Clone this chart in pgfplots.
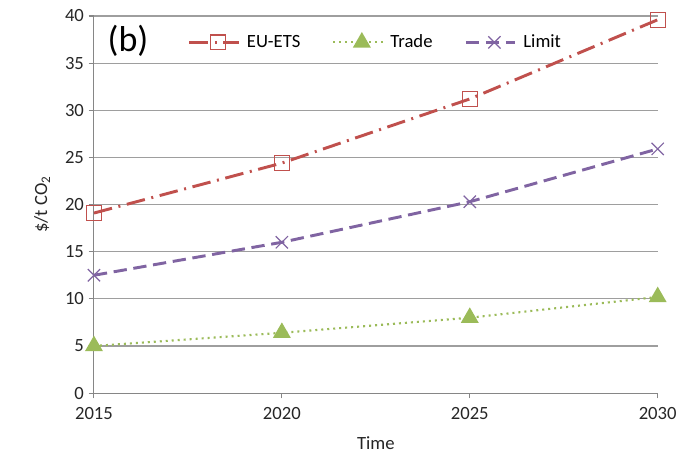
\documentclass[border=0pt]{standalone}
\usepackage{fontspec}
\setmainfont{Carlito}
\usepackage{pgfplots}
\pgfplotsset{compat=1.18}
\definecolor{eured}{HTML}{C0504D}
\definecolor{trgreen}{HTML}{9BBB59}
\definecolor{lmpurple}{HTML}{8064A2}
\definecolor{axgray}{HTML}{868686}
\definecolor{txt}{HTML}{262626}
\begin{document}
\begin{tikzpicture}
\begin{axis}[
  scale only axis,
  width=423pt, height=283pt,
  xmin=2015, xmax=2030, ymin=0, ymax=40,
  xtick={2015,2020,2025,2030},
  ytick={0,5,...,40},
  xticklabel style={/pgf/number format/1000 sep={}, yshift=-3pt},
  /pgf/number format/assume math mode=true,
  tick label style={font=\fontsize{14}{16}\selectfont, text=txt},
  label style={font=\fontsize{14}{16}\selectfont, text=txt},
  axis x line*=bottom, axis y line*=left,
  axis line style={axgray, line width=0.8pt, -},
  ymajorgrids, grid style={axgray!80, line width=0.8pt},
  tick style={axgray, line width=0.8pt},
  tick align=outside, major tick length=4pt,
  xlabel={Time}, ylabel={\$/t CO\textsubscript{2}},
  xlabel style={at={(axis description cs:0.5,-0.1325)}, anchor=center},
  ylabel style={at={(axis description cs:-0.092,0.5)}, anchor=center},
  legend style={draw=none, fill=none, at={(0.5,0.93)}, anchor=center,
    legend columns=3, font=\fontsize{14}{16}\selectfont,
    /tikz/every odd column/.append style={column sep=3pt},
    /tikz/every even column/.append style={column sep=22pt}},
  legend image code/.code={
    \draw[mark repeat=2,mark phase=2] plot coordinates {(0cm,0cm) (0.75cm,0cm) (1.3cm,0cm)};},
  legend cell align=left,
  clip=false,
]
\addplot[eured, line width=2.2pt, dash pattern=on 14pt off 5pt on 1.5pt off 5pt,
  mark=square, mark size=5.6pt, mark options={solid, fill=white, line width=0.9pt}]
  coordinates {(2015,19.1) (2020,24.4) (2025,31.2) (2030,39.6)};
\addlegendentry{EU-ETS}
\addplot[trgreen, line width=1.6pt, dash pattern=on 1.5pt off 3pt,
  mark=triangle*, mark size=6.2pt, mark options={solid, fill=trgreen}]
  coordinates {(2015,5.0) (2020,6.4) (2025,8.0) (2030,10.2)};
\addlegendentry{Trade}
\addplot[lmpurple, line width=2.2pt, dash pattern=on 10pt off 5pt,
  mark=x, mark size=6.5pt, mark options={solid, line width=0.9pt}]
  coordinates {(2015,12.5) (2020,16.0) (2025,20.3) (2030,25.9)};
\addlegendentry{Limit}
\node[anchor=west, font=\fontsize{27}{30}\selectfont, text=black] at (axis description cs:0.016,0.935) {(b)};
\end{axis}
\pgfresetboundingbox
\path (current axis.south west) ++(-70.5pt,-46.5pt) coordinate (bl);
\path (current axis.north east) ++(22pt,12pt) coordinate (tr);
\path[use as bounding box] (bl) rectangle (tr);
\end{tikzpicture}
\end{document}
